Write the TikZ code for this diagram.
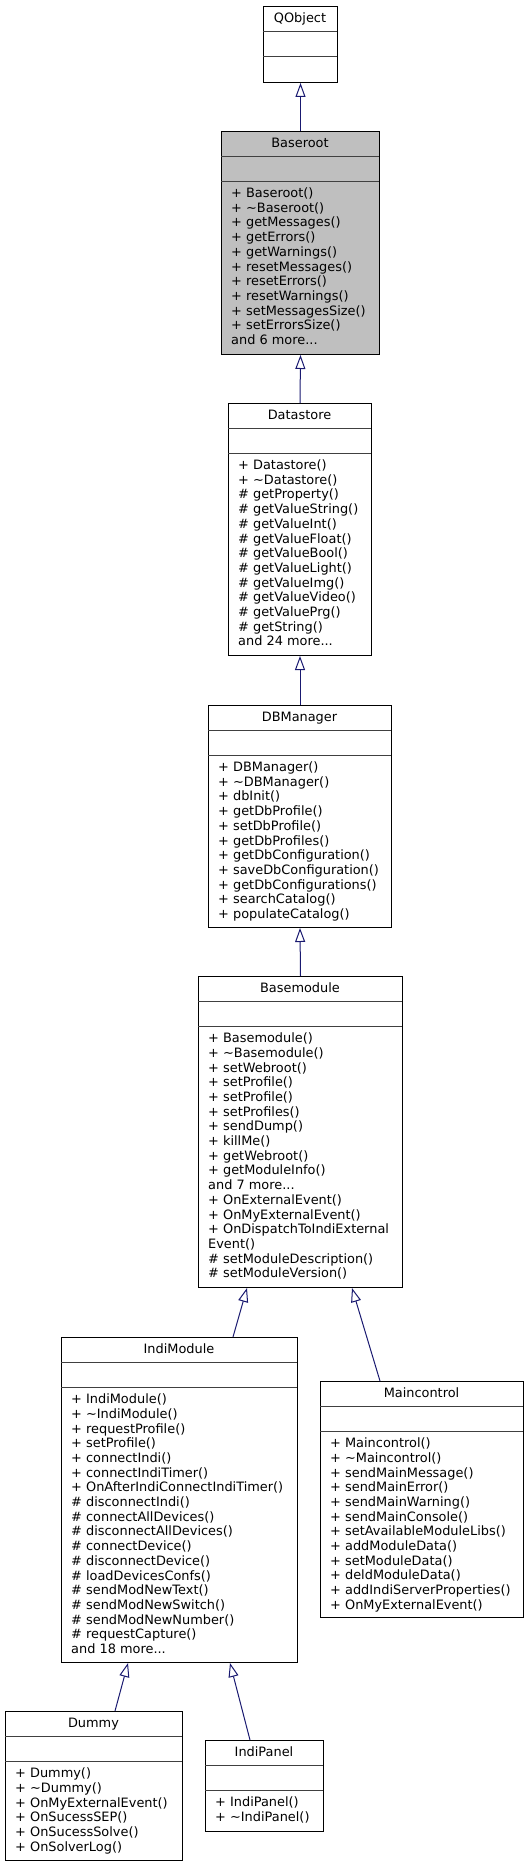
\documentclass[tikz,border=0pt]{standalone}
\usepackage{fontspec}
\setmainfont{DejaVu Sans}
\usetikzlibrary{arrows.meta}
\definecolor{edgeblue}{HTML}{191970}
\definecolor{sepgray}{HTML}{404040}
\definecolor{curfill}{HTML}{BFBFBF}
\tikzset{
  classbox/.style={draw=black, line width=1pt, anchor=north west, inner sep=0pt},
  sepline/.style={draw=sepgray, line width=1.2pt},
  classtitle/.style={anchor=base, inner sep=0pt, font=\fontsize{12.9}{14.7}\selectfont},
  members/.style={anchor=north west, inner sep=0pt, align=left, font=\fontsize{12.9}{14.7}\selectfont},
  inherit/.style={draw=edgeblue, line width=1pt, -{Triangle[open, length=14pt, width=10pt]}}
}
\begin{document}
\begin{tikzpicture}[x=1pt, y=-1pt]
   \useasboundingbox (0,0) rectangle (528,1867);
   % QObject
   \node[classbox, minimum width=74pt, minimum height=76pt] (qobject) at (263,6) {};
   \draw[sepline] (263,31.5) -- ++(74,0);
   \draw[sepline] (263,56.5) -- ++(74,0);
   \node[classtitle] (qobject-t) at (300,22.5) {QObject};
   % Baseroot
   \node[classbox, fill=curfill, minimum width=158pt, minimum height=223pt] (baseroot) at (221,131) {};
   \draw[sepline] (221,156.5) -- ++(158,0);
   \draw[sepline] (221,181.5) -- ++(158,0);
   \node[classtitle] (baseroot-t) at (300,147.5) {Baseroot};
   \node[members] (baseroot-m) at (231,187.6) {+ Baseroot()\\+ \textasciitilde Baseroot()\\+ getMessages()\\+ getErrors()\\+ getWarnings()\\+ resetMessages()\\+ resetErrors()\\+ resetWarnings()\\+ setMessagesSize()\\+ setErrorsSize()\\and 6 more...};
   % Datastore
   \node[classbox, minimum width=143pt, minimum height=252pt] (datastore) at (228,403) {};
   \draw[sepline] (228,428.5) -- ++(143,0);
   \draw[sepline] (228,453.5) -- ++(143,0);
   \node[classtitle] (datastore-t) at (299.5,419.5) {Datastore};
   \node[members] (datastore-m) at (238,459.6) {+ Datastore()\\+ \textasciitilde Datastore()\\\# getProperty()\\\# getValueString()\\\# getValueInt()\\\# getValueFloat()\\\# getValueBool()\\\# getValueLight()\\\# getValueImg()\\\# getValueVideo()\\\# getValuePrg()\\\# getString()\\and 24 more...};
   % DBManager
   \node[classbox, minimum width=183pt, minimum height=222pt] (dbmanager) at (208,705) {};
   \draw[sepline] (208,730.5) -- ++(183,0);
   \draw[sepline] (208,755.5) -- ++(183,0);
   \node[classtitle] (dbmanager-t) at (299.5,721.5) {DBManager};
   \node[members] (dbmanager-m) at (218,761.6) {+ DBManager()\\+ \textasciitilde DBManager()\\+ dbInit()\\+ getDbProfile()\\+ setDbProfile()\\+ getDbProfiles()\\+ getDbConfiguration()\\+ saveDbConfiguration()\\+ getDbConfigurations()\\+ searchCatalog()\\+ populateCatalog()};
   % Basemodule
   \node[classbox, minimum width=204pt, minimum height=311pt] (basemodule) at (198,976) {};
   \draw[sepline] (198,1001.5) -- ++(204,0);
   \draw[sepline] (198,1026.5) -- ++(204,0);
   \node[classtitle] (basemodule-t) at (300,992.5) {Basemodule};
   \node[members] (basemodule-m) at (208,1032.6) {+ Basemodule()\\+ \textasciitilde Basemodule()\\+ setWebroot()\\+ setProfile()\\+ setProfile()\\+ setProfiles()\\+ sendDump()\\+ killMe()\\+ getWebroot()\\+ getModuleInfo()\\and 7 more...\\+ OnExternalEvent()\\+ OnMyExternalEvent()\\+ OnDispatchToIndiExternal\\Event()\\\# setModuleDescription()\\\# setModuleVersion()};
   % IndiModule
   \node[classbox, minimum width=236pt, minimum height=325pt] (indimodule) at (61,1337) {};
   \draw[sepline] (61,1362.5) -- ++(236,0);
   \draw[sepline] (61,1387.5) -- ++(236,0);
   \node[classtitle] (indimodule-t) at (179,1353.5) {IndiModule};
   \node[members] (indimodule-m) at (71,1393.6) {+ IndiModule()\\+ \textasciitilde IndiModule()\\+ requestProfile()\\+ setProfile()\\+ connectIndi()\\+ connectIndiTimer()\\+ OnAfterIndiConnectIndiTimer()\\\# disconnectIndi()\\\# connectAllDevices()\\\# disconnectAllDevices()\\\# connectDevice()\\\# disconnectDevice()\\\# loadDevicesConfs()\\\# sendModNewText()\\\# sendModNewSwitch()\\\# sendModNewNumber()\\\# requestCapture()\\and 18 more...};
   % Maincontrol
   \node[classbox, minimum width=203pt, minimum height=236pt] (maincontrol) at (320,1381) {};
   \draw[sepline] (320,1406.5) -- ++(203,0);
   \draw[sepline] (320,1431.5) -- ++(203,0);
   \node[classtitle] (maincontrol-t) at (421.5,1397.5) {Maincontrol};
   \node[members] (maincontrol-m) at (330,1437.6) {+ Maincontrol()\\+ \textasciitilde Maincontrol()\\+ sendMainMessage()\\+ sendMainError()\\+ sendMainWarning()\\+ sendMainConsole()\\+ setAvailableModuleLibs()\\+ addModuleData()\\+ setModuleData()\\+ deldModuleData()\\+ addIndiServerProperties()\\+ OnMyExternalEvent()};
   % Dummy
   \node[classbox, minimum width=177pt, minimum height=149pt] (dummy) at (5,1711) {};
   \draw[sepline] (5,1736.5) -- ++(177,0);
   \draw[sepline] (5,1761.5) -- ++(177,0);
   \node[classtitle] (dummy-t) at (93.5,1727.5) {Dummy};
   \node[members] (dummy-m) at (15,1767.6) {+ Dummy()\\+ \textasciitilde Dummy()\\+ OnMyExternalEvent()\\+ OnSucessSEP()\\+ OnSucessSolve()\\+ OnSolverLog()};
   % IndiPanel
   \node[classbox, minimum width=118pt, minimum height=91pt] (indipanel) at (205,1740) {};
   \draw[sepline] (205,1765.5) -- ++(118,0);
   \draw[sepline] (205,1790.5) -- ++(118,0);
   \node[classtitle] (indipanel-t) at (264,1756.5) {IndiPanel};
   \node[members] (indipanel-m) at (215,1796.6) {+ IndiPanel()\\+ \textasciitilde IndiPanel()};
   % inheritance
   \draw[inherit] (baseroot.north) -- (qobject.south);
   \draw[inherit] (datastore.north) -- (baseroot.south);
   \draw[inherit] (dbmanager.north) -- (datastore.south);
   \draw[inherit] (basemodule.north) -- (dbmanager.south);
   \draw[inherit] ([xshift=172pt]indimodule.north west) -- ([xshift=49pt]basemodule.south west);
   \draw[inherit] ([xshift=60pt]maincontrol.north west) -- ([xshift=154pt]basemodule.south west);
   \draw[inherit] ([xshift=110pt]dummy.north west) -- ([xshift=67pt]indimodule.south west);
   \draw[inherit] ([xshift=45pt]indipanel.north west) -- ([xshift=169pt]indimodule.south west);
\end{tikzpicture}
\end{document}
